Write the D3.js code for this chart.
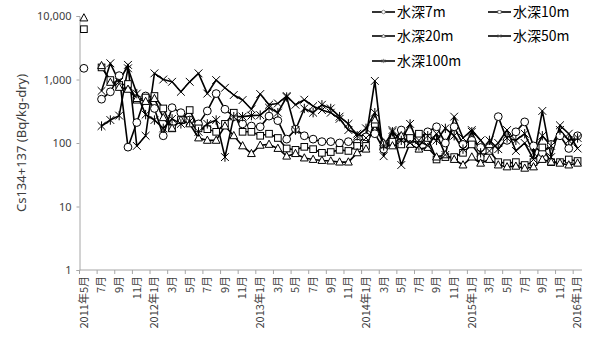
<!DOCTYPE html>
<html>
<head>
<meta charset="utf-8">
<script src="https://cdn.jsdelivr.net/npm/d3@7"></script>
<style>
  body { margin: 0; background: #fff; }
  svg { font-family: "Noto Sans CJK JP", "Noto Sans", sans-serif; }
</style>
</head>
<body>
<svg id="chart" width="589" height="340"></svg>
<script>
// monthly samples, 2011-05 .. 2016-01
const startMonth = new Date(2011, 4, 1);
const endMonth = new Date(2016, 0, 1);

const tickLabels = ["2011年5月","7月","9月","11月","2012年1月","3月","5月","7月","9月","11月",
  "2013年1月","3月","5月","7月","9月","11月","2014年1月","3月","5月","7月","9月","11月",
  "2015年1月","3月","5月","7月","9月","11月","2016年1月"];

const yTicks = [1, 10, 100, 1000, 10000];

const depth7m = [1500,null,490,640,1150,86,210,550,350,130,
  360,300,230,200,320,600,340,260,200,185,
  180,265,225,115,165,130,115,105,105,100,
  105,100,125,140,80,100,160,115,120,150,
  180,100,180,95,110,85,85,260,110,150,
  215,90,70,95,130,82,130];

const depth10m = [6200,null,1550,980,820,850,480,520,550,350,
  170,230,330,170,165,150,200,300,150,150,
  130,140,120,82,78,87,80,70,72,78,
  75,90,90,200,95,105,95,120,140,120,
  55,60,60,70,95,60,75,50,48,50,
  45,50,85,50,50,55,52];

const depth20m = [9300,null,1650,900,750,700,500,450,500,250,
  170,230,200,120,110,110,185,130,90,68,
  92,95,82,62,68,58,55,53,52,50,
  50,70,80,230,100,90,130,95,80,85,
  60,65,55,45,60,48,55,45,42,43,
  40,42,55,50,48,45,48];

const depth50m = [null,null,660,1800,920,1700,90,130,1250,1000,
  920,640,920,1250,600,980,740,570,475,340,
  590,400,420,550,400,480,380,330,300,240,
  160,140,120,950,62,160,45,100,110,90,
  140,65,260,120,160,110,75,100,160,75,
  100,55,320,60,190,140,82];

const depth100m = [null,null,185,230,270,1500,600,280,230,170,
  240,200,220,150,200,230,60,260,260,270,
  275,360,300,530,160,350,300,400,350,260,
  200,130,170,300,90,150,110,200,90,130,
  110,170,130,80,150,70,110,80,120,110,
  140,70,130,90,160,110,120];

const seriesNames = ["水深7m","水深10m","水深20m","水深50m","水深100m"];
const seriesValues = [depth7m, depth10m, depth20m, depth50m, depth100m];
const seriesMarkers = ["circle","square","triangle","cross","star"];

const months = d3.timeMonth.range(startMonth, d3.timeMonth.offset(endMonth, 1));

const svg = d3.select("#chart");
const plotLeft = 79.5, plotRight = 582, plotTop = 16, plotBottom = 270;

const x = d3.scaleBand().domain(months).range([plotLeft, plotRight]);
const y = d3.scaleLog().domain([1, 10000]).range([plotBottom, plotTop]);

// y axis
const yAxis = svg.append("g").attr("transform", `translate(${plotLeft},0)`)
  .call(d3.axisLeft(y).tickValues(yTicks).tickSize(3).tickFormat(d3.format(",")));
yAxis.select(".domain").attr("stroke", "#a6a6a6");
yAxis.selectAll(".tick line").attr("stroke", "#a6a6a6");
yAxis.selectAll(".tick text").attr("font-size", 11).attr("fill", "#404040")
  .attr("font-family", "'Noto Sans', sans-serif").attr("x", -8);

// x axis: ticks at month boundaries every 2 months
const xg = svg.append("g");
xg.append("line").attr("x1", plotLeft).attr("x2", plotRight).attr("y1", plotBottom).attr("y2", plotBottom)
  .attr("stroke", "#a6a6a6");
const labelMonths = months.filter((d, i) => i % 2 === 0);
xg.selectAll("line.tick").data(labelMonths).join("line").attr("class", "tick")
  .attr("x1", d => x(d)).attr("x2", d => x(d))
  .attr("y1", plotBottom).attr("y2", plotBottom + 4).attr("stroke", "#a6a6a6");
xg.selectAll("text").data(labelMonths).join("text")
  .attr("transform", d => `translate(${x(d) + x.bandwidth() / 2},${plotBottom + 6}) rotate(-90)`)
  .attr("text-anchor", "end").attr("dy", "0.35em")
  .attr("font-size", 11).attr("fill", "#404040")
  .text((d, i) => tickLabels[i]);

// y title
svg.append("text")
  .attr("transform", `translate(21,${(plotTop + plotBottom) / 2}) rotate(-90)`)
  .attr("text-anchor", "middle").attr("dy", "0.35em")
  .attr("font-size", 13).attr("fill", "#404040")
  .attr("font-family", "'Noto Sans', sans-serif")
  .text("Cs134+137 (Bq/kg-dry)");

function drawMarker(sel, type, s) {
  if (type === "circle") {
    sel.append("circle").attr("r", s).attr("fill", "#fff").attr("stroke", "#000");
  } else if (type === "square") {
    sel.append("rect").attr("x", -s * 0.85).attr("y", -s * 0.85).attr("width", s * 1.7).attr("height", s * 1.7)
      .attr("fill", "#fff").attr("stroke", "#000");
  } else if (type === "triangle") {
    sel.append("path").attr("d", `M0,${-s * 1.1}L${s},${s * 0.75}L${-s},${s * 0.75}Z`)
      .attr("fill", "#fff").attr("stroke", "#000");
  } else if (type === "cross") {
    sel.append("path").attr("d", `M${-s},${-s}L${s},${s}M${-s},${s}L${s},${-s}`)
      .attr("stroke", "#000").attr("fill", "none");
  } else {
    sel.append("path").attr("d", `M${-s},${-s}L${s},${s}M${-s},${s}L${s},${-s}M0,${-s * 1.2}V${s * 1.2}`)
      .attr("stroke", "#000").attr("fill", "none");
  }
}

const cx = i => x(months[i]) + x.bandwidth() / 2;
const line = d3.line().defined(d => d != null).x((d, i) => cx(i)).y(d => y(d));

const plot = svg.append("g");
seriesValues.forEach((vals, k) => {
  plot.append("path").datum(vals).attr("d", line)
    .attr("fill", "none").attr("stroke", "#000").attr("stroke-width", 1.6)
    .attr("stroke-linejoin", "round");
});
seriesValues.forEach((vals, k) => {
  const pts = vals.map((v, i) => ({ v, i })).filter(d => d.v != null);
  plot.selectAll(null).data(pts).join("g")
    .attr("transform", d => `translate(${cx(d.i)},${y(d.v)})`)
    .each(function () { drawMarker(d3.select(this), seriesMarkers[k], 3.9); });
});

// legend
const legendPos = [[372, 12], [488, 12], [372, 36], [488, 36], [372, 61]];
seriesNames.forEach((name, k) => {
  const g = svg.append("g").attr("transform", `translate(${legendPos[k][0]},${legendPos[k][1]})`);
  g.append("line").attr("x1", 0).attr("x2", 23).attr("stroke", "#000").attr("stroke-width", 1.6);
  const m = g.append("g").attr("transform", "translate(11.5,0)");
  drawMarker(m, seriesMarkers[k], 1.8);
  m.selectAll("*").attr("stroke", "#666").attr("stroke-width", 0.7);
  g.append("text").attr("x", 25).attr("dy", "0.35em").attr("font-size", 14)
    .attr("fill", "#000").text(name);
});
</script>
</body>
</html>
